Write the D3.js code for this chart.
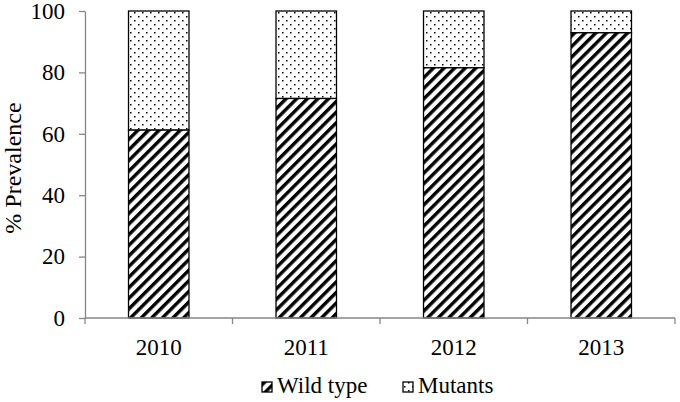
<!DOCTYPE html>
<html>
<head>
<meta charset="utf-8">
<script src="https://cdn.jsdelivr.net/npm/d3@7"></script>
<style>
  body { margin: 0; background: #fff; }
</style>
</head>
<body>
<svg id="chart" width="680" height="402"></svg>
<script>
// data
var years = ["2010", "2011", "2012", "2013"];
var wildType = [61.2, 71.5, 81.5, 92.9];
var mutants = [38.8, 28.5, 18.5, 7.1];
var yTicks = [0, 20, 40, 60, 80, 100];

var FONT = "'Liberation Serif', 'Times New Roman', serif";
var svg = d3.select("#chart");
var margin = {left: 85, right: 5, top: 11, bottom: 84};
var width = 680 - margin.left - margin.right;
var height = 402 - margin.top - margin.bottom;

// patterns
var defs = svg.append("defs");
var hatch = defs.append("pattern")
	.attr("id", "hatch")
	.attr("patternUnits", "userSpaceOnUse")
	.attr("width", 7.5).attr("height", 7.5)
	.attr("patternTransform", "rotate(45)");
hatch.append("rect").attr("width", 7.5).attr("height", 7.5).attr("fill", "#fff");
hatch.append("rect").attr("x", 0).attr("width", 3.4).attr("height", 7.5).attr("fill", "#000");

var dots = defs.append("pattern")
	.attr("id", "dots")
	.attr("patternUnits", "userSpaceOnUse")
	.attr("width", 8).attr("height", 8);
dots.append("rect").attr("width", 8).attr("height", 8).attr("fill", "#fff");
dots.append("rect").attr("x", 1).attr("y", 1).attr("width", 1.5).attr("height", 1.5).attr("fill", "#000");
dots.append("rect").attr("x", 5).attr("y", 5).attr("width", 1.5).attr("height", 1.5).attr("fill", "#000");

var g = svg.append("g").attr("transform", "translate(" + margin.left + "," + margin.top + ")");

var x = d3.scaleBand().domain(years).range([0, width]).paddingInner(0.59).paddingOuter(0.295);
var y = d3.scaleLinear().domain([0, 100]).range([height, 0]);

// bars
var stack = years.map(function(d, i) { return {year: d, wild: wildType[i], mut: mutants[i]}; });

g.selectAll("rect.mut")
	.data(stack)
	.enter().append("rect")
	.attr("class", "mut")
	.attr("x", function(d) { return x(d.year); })
	.attr("y", function(d) { return y(d.wild + d.mut); })
	.attr("width", x.bandwidth())
	.attr("height", function(d) { return y(d.wild) - y(d.wild + d.mut); })
	.attr("fill", "url(#dots)")
	.attr("stroke", "#000")
	.attr("stroke-width", 1.3);

g.selectAll("rect.wild")
	.data(stack)
	.enter().append("rect")
	.attr("class", "wild")
	.attr("x", function(d) { return x(d.year); })
	.attr("y", function(d) { return y(d.wild); })
	.attr("width", x.bandwidth())
	.attr("height", function(d) { return y(0) - y(d.wild); })
	.attr("fill", "url(#hatch)")
	.attr("stroke", "#000")
	.attr("stroke-width", 1.3);

// y axis
var yAxis = g.append("g")
	.call(d3.axisLeft(y).tickValues(yTicks).tickSize(6).tickPadding(14).tickSizeOuter(0));
yAxis.select(".domain").attr("stroke", "#868686").attr("stroke-width", 1.3);
yAxis.selectAll(".tick line").attr("stroke", "#868686").attr("stroke-width", 1.3);
yAxis.selectAll("text")
	.style("font-family", FONT)
	.style("font-size", "23px")
	.attr("fill", "#000");

// x axis, ticks between categories
var xAxis = g.append("g").attr("transform", "translate(0," + height + ")");
xAxis.append("line")
	.attr("x1", 0).attr("x2", width)
	.attr("stroke", "#868686").attr("stroke-width", 1.3);
var bounds = d3.range(years.length + 1).map(function(i) { return i * width / years.length; });
xAxis.selectAll("line.sep")
	.data(bounds)
	.enter().append("line")
	.attr("class", "sep")
	.attr("x1", function(d) { return d; }).attr("x2", function(d) { return d; })
	.attr("y1", 0).attr("y2", 6)
	.attr("stroke", "#868686").attr("stroke-width", 1.3);
xAxis.selectAll("text")
	.data(years)
	.enter().append("text")
	.attr("x", function(d) { return x(d) + x.bandwidth() / 2; })
	.attr("y", 37)
	.attr("text-anchor", "middle")
	.style("font-family", FONT)
	.style("font-size", "23px")
	.text(function(d) { return d; });

// y label
svg.append("text")
	.attr("transform", "translate(21,168) rotate(-90)")
	.attr("text-anchor", "middle")
	.style("font-family", FONT)
	.style("font-size", "24px")
	.text("% Prevalence");

// legend
var legendItems = [
	{label: "Wild type", fill: "url(#hatch)", x: 262},
	{label: "Mutants", fill: "url(#dots)", x: 403}
];
var legend = svg.selectAll("g.legend")
	.data(legendItems)
	.enter().append("g")
	.attr("class", "legend")
	.attr("transform", function(d) { return "translate(" + d.x + ",393)"; });
legend.append("rect")
	.attr("x", 0).attr("y", -11)
	.attr("width", 10).attr("height", 10)
	.attr("fill", function(d) { return d.fill; })
	.attr("stroke", "#000")
	.attr("stroke-width", 1.3);
legend.append("text")
	.attr("x", 15).attr("y", 0)
	.style("font-family", FONT)
	.style("font-size", "23px")
	.text(function(d) { return d.label; });
</script>
</body>
</html>
